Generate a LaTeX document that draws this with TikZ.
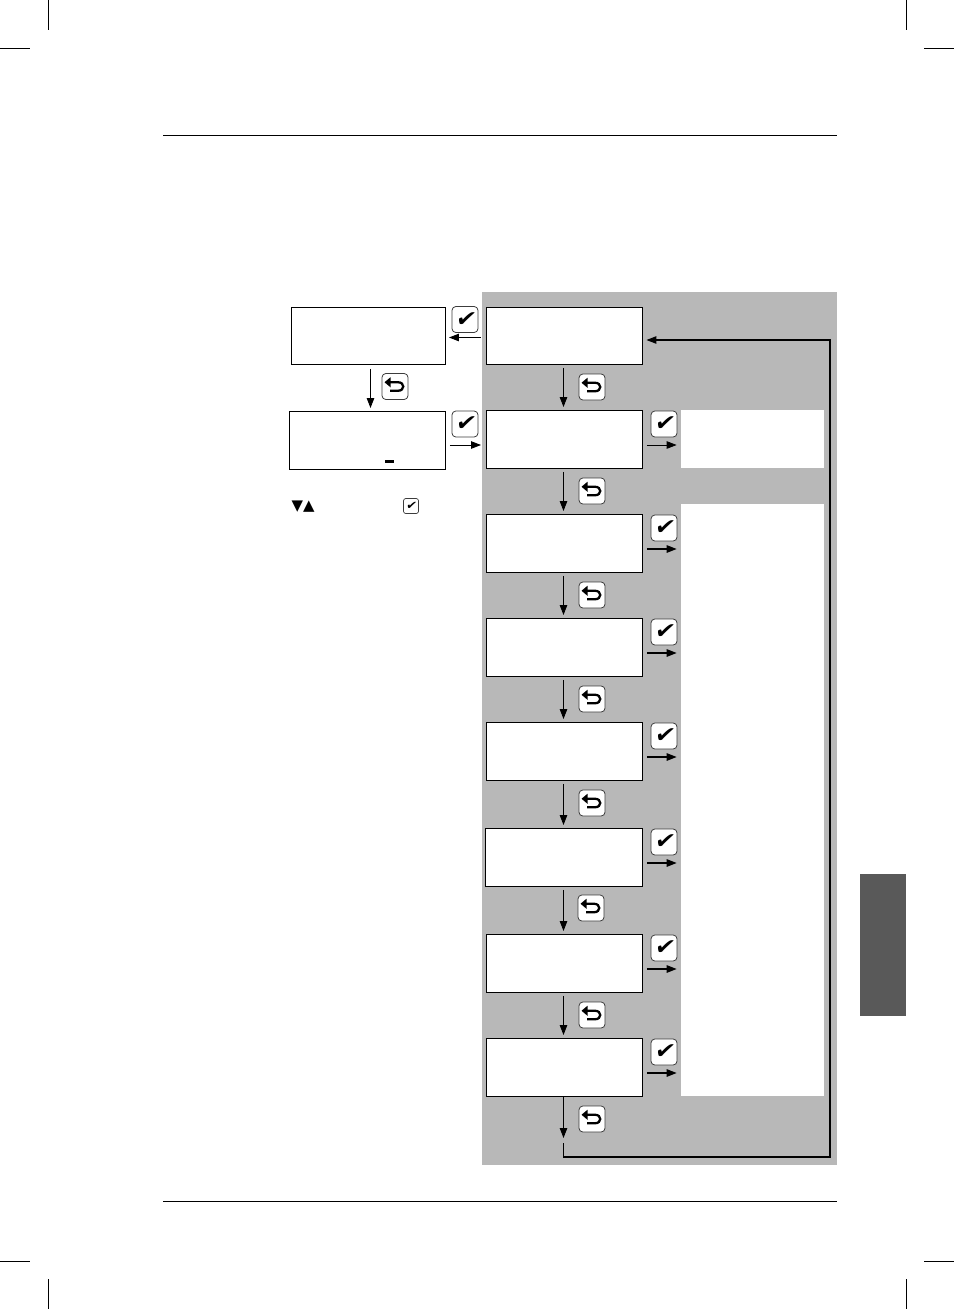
\documentclass[tikz,border=0pt]{standalone}
\usepackage{fontspec}
\newfontfamily\symfont{DejaVu Sans}
\newfontfamily\tickfont[FakeSlant=0.18,FakeStretch=1.08]{DejaVu Sans}
\usetikzlibrary{arrows.meta}
\definecolor{panelgray}{HTML}{B8B8B8}
\definecolor{tabgray}{HTML}{595959}
\definecolor{btnedge}{HTML}{3C3C3C}
\tikzset{
    screen/.style={draw,fill=white,line width=0.55pt,inner sep=0pt,minimum width=156*0.02cm,minimum height=58*0.02cm},
    sheet/.style={fill=white,inner sep=0pt},
    button/.style={draw=btnedge,fill=white,line width=0.45pt,rounded corners=2.2pt,inner sep=0pt,minimum size=26*0.02cm},
    okbtn/.style={button,font=\tickfont\fontsize{12.5}{12.5}\selectfont},
    backbtn/.style={button,path picture={
        \begin{scope}[shift={(path picture bounding box.center)},x=1cm,y=1cm,sharp corners]
            \draw[black,line width=1.3pt] (-0.12,0.085) -- (0.06,0.085)
                .. controls (0.2,0.085) and (0.2,-0.085) .. (0.06,-0.085) -- (-0.1,-0.085);
            \fill[black] (-0.21,0.085) -- (-0.09,0.185) -- (-0.09,-0.015) -- cycle;
        \end{scope}
    }},
    flow/.style={line width=0.5pt,shorten <=4*0.02cm,shorten >=3*0.02cm,-{Triangle[length=0.2cm,width=0.15cm]}},
    crop/.style={line width=0.5pt}
}
\begin{document}
\begin{tikzpicture}[x=0.02cm,y=-0.02cm]
    \useasboundingbox (0,0) rectangle (954,1309);

    % page furniture
    \foreach \x in {48,906} {
        \draw[crop] (\x,0) -- (\x,30);
        \draw[crop] (\x,1279) -- (\x,1309);
    }
    \foreach \y in {48,1261} {
        \draw[crop] (0,\y) -- (30,\y);
        \draw[crop] (924,\y) -- (954,\y);
    }
    \draw[crop] (163,135.5) -- (837,135.5);
    \draw[crop] (163,1201.5) -- (837,1201.5);
    \fill[tabgray] (860,874) rectangle (906,1016);

    % grey field and white panels
    \fill[panelgray] (482,292) rectangle (837,1165);
    \node[sheet,minimum width=143*0.02cm,minimum height=58*0.02cm] (p1) at (752.5,439) {};
    \node[sheet,minimum width=143*0.02cm,minimum height=592*0.02cm] (p2) at (752.5,800) {};

    % screens
    \node[screen,minimum height=57*0.02cm] (m1) at (564,336) {};
    \foreach \n/\yy in {2/439.5,3/543.5,4/647.5,5/751.5,7/963.5,8/1067.5} {
        \node[screen] (m\n) at (564.5,\yy) {};
    }
    \node[screen,minimum width=157*0.02cm] (m6) at (564,857.5) {};
    \node[screen,minimum width=154*0.02cm,minimum height=57*0.02cm] (a1) at (368.5,336) {};
    \node[screen] (a2) at (367.5,440.5) {};
    \fill (385,460) rectangle (394,463);

    % buttons
    \foreach \n/\bx/\by in {1/465/319.5,2/465/424,3/664/424,4/664/528,5/664/632,6/664/736,7/664/842,8/664/948,9/664/1052} {
        \node[okbtn] (ok\n) at (\bx,\by) {✔};
    }
    \foreach \n/\bx/\by in {1/395/386.5,2/592/387,3/592/491,4/592/595,5/592/699,6/592/803,7/591/908,8/592/1015,9/592/1119} {
        \node[backbtn] (back\n) at (\bx,\by) {};
    }

    % connectors
    \coordinate (stem) at (563.5,0);
    \coordinate (stema) at (370.5,0);
    \foreach \a/\b in {m1/m2,m2/m3,m3/m4,m4/m5,m5/m6,m6/m7,m7/m8} {
        \draw[flow,shorten <=3*0.02cm] (\a.south -| stem) -- (\b.north -| stem);
    }
    \draw[flow] (a1.south -| stema) -- (a2.north -| stema);
    \draw[flow,shorten <=5*0.02cm] (m1.west |- 0,337.5) -- (a1.east |- 0,337.5);
    \draw[flow,shorten >=5*0.02cm] (a2.east |- 0,445) -- (m2.west |- 0,445);
    \draw[flow,shorten >=4*0.02cm] (m2.east |- 0,445) -- (p1.west |- 0,445);
    \foreach \n/\yy in {3/549,4/653,5/757,6/863,7/969,8/1073} {
        \draw[flow,shorten >=4*0.02cm,line width=0.75pt] (m\n.east |- 0,\yy) -- (p2.west |- 0,\yy);
    }
    \coordinate (drop) at (563.5,1138);
    \coordinate (turn) at (563.5,1143);
    \coordinate (corner) at (830,1157);
    \draw[flow,shorten >=0pt,shorten <=0pt] (m8.south -| stem) -- (drop);
    \draw[flow,shorten <=0pt,shorten >=4*0.02cm,line width=0.6pt] (turn) |- (corner) |- (m1.east |- 0,340);

    % hint line
    \node[inner sep=0pt,font=\symfont\fontsize{8.5}{8.5}\selectfont] (hint) at (303,507) {▼▲};
    \node[button,line width=0.4pt,rounded corners=1.3pt,minimum size=15*0.02cm,font=\tickfont\fontsize{6.5}{6.5}\selectfont] (ok0) at (411,506) {✔};
\end{tikzpicture}
\end{document}
